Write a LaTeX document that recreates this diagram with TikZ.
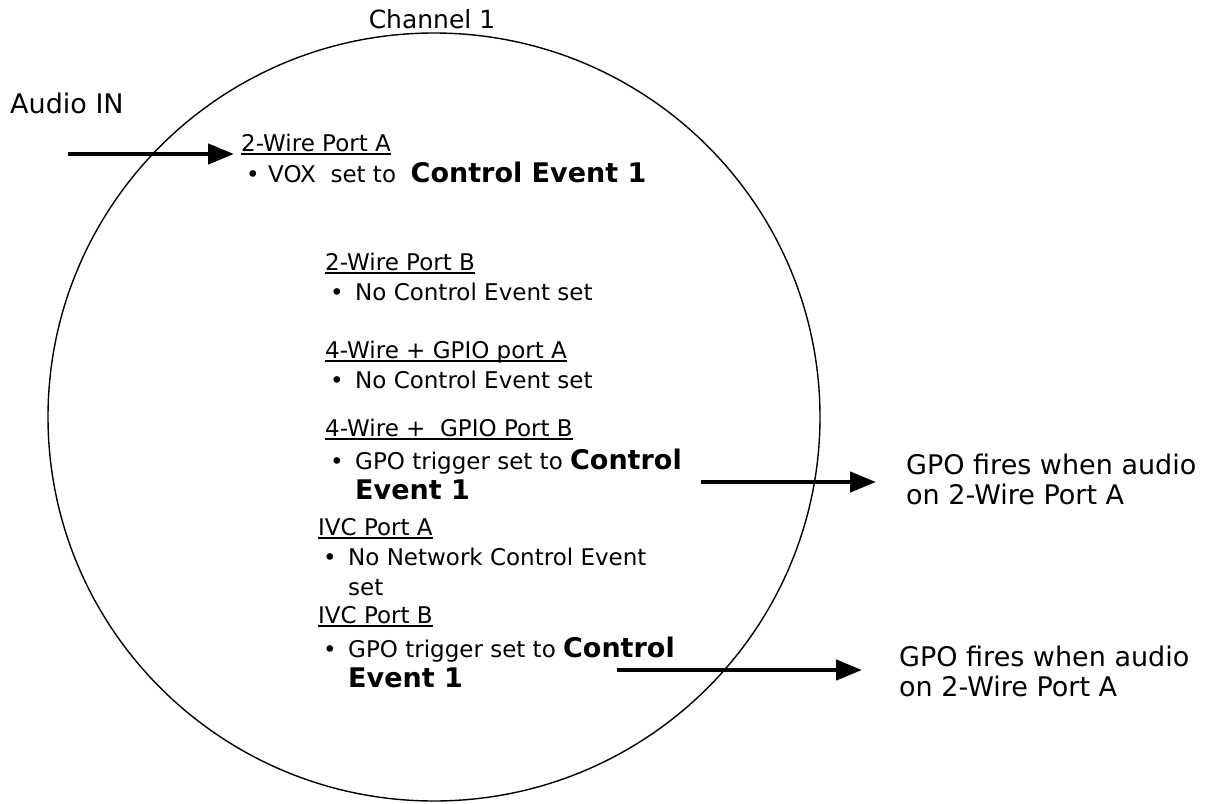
\documentclass[tikz,border=0pt]{standalone}
\usepackage{fontspec}
\setmainfont{DejaVu Sans}
\usetikzlibrary{arrows.meta}
\newcommand\bodyf{\fontsize{23}{30}\selectfont}
\newcommand\boldf{\fontsize{27}{30}\selectfont\bfseries}
\newcommand\labf{\fontsize{27}{30}\selectfont}
\begin{document}
\begin{tikzpicture}[x=1pt,y=-1pt,
  txt/.style={anchor=base west,inner sep=0pt,font=\bodyf},
  lab/.style={anchor=base west,inner sep=0pt,font=\labf},
  bul/.style={anchor=base west,inner sep=0pt,font=\bodyf},
  ulin/.style={line width=1.1pt},
  bigarrow/.style={line width=4.5pt,-{Triangle[length=26pt,width=20pt]}},
  ring/.style={line width=1.4pt}]
\useasboundingbox (0,0) rectangle (1212,803);
\draw[ring] (434,417) ellipse [x radius=386pt,y radius=384pt];
\node[anchor=base,inner sep=0pt,font=\fontsize{25}{30}\selectfont] (ch) at (432,28) {Channel 1};
\node[lab] (ain) at (10,113) {Audio IN};
% 2-Wire Port A
\node[txt] (h1) at (241,151) {2-Wire Port A};
\node[bul] (b1) at (246,182) {\textbullet};
\node[txt] (t1) at (268,182) {VOX\ \ set to\ \ {\boldf Control Event 1}};
% 2-Wire Port B
\node[txt] (h2) at (325,270) {2-Wire Port B};
\node[bul] (b2) at (330,300) {\textbullet};
\node[txt] (t2) at (355,300) {No Control Event set};
% 4-Wire A
\node[txt] (h3) at (325,358) {4-Wire + GPIO port A};
\node[bul] (b3) at (330,388) {\textbullet};
\node[txt] (t3) at (355,388) {No Control Event set};
% 4-Wire B
\node[txt] (h4) at (325,436) {4-Wire +\ \ GPIO Port B};
\node[bul] (b4) at (330,469) {\textbullet};
\node[txt] (t4) at (355,469) {GPO trigger set to {\boldf Control}};
\node[txt,font=\boldf] (t4b) at (355,499) {Event 1};
% IVC A
\node[txt] (h5) at (318,535) {IVC Port A};
\node[bul] (b5) at (323,565) {\textbullet};
\node[txt] (t5) at (348,565) {No Network Control Event};
\node[txt] (t5b) at (348,595) {set};
% IVC B
\node[txt] (h6) at (318,623) {IVC Port B};
\node[bul] (b6) at (323,657) {\textbullet};
\node[txt] (t6) at (348,657) {GPO trigger set to {\boldf Control}};
\node[txt,font=\boldf] (t6b) at (348,687) {Event 1};
% right labels
\node[lab] (r1) at (906,474) {GPO fires when audio};
\node[lab] (r1b) at (906,504) {on 2-Wire Port A};
\node[lab] (r2) at (899,666) {GPO fires when audio};
\node[lab] (r2b) at (899,696) {on 2-Wire Port A};
% underlines
\foreach \n in {h1,h2,h3,h4,h5,h6}
  \draw[ulin] ([yshift=-3pt]\n.base west) -- ([yshift=-3pt]\n.base east);
% arrows
\coordinate (a1s) at (68,154);
\coordinate (a2s) at (701,482);
\coordinate (a3s) at (617,670);
\draw[bigarrow,shorten >=7pt] (a1s) -- (a1s -| h1.west);
\draw[bigarrow,shorten >=30pt] (a2s) -- (a2s -| r1.west);
\draw[bigarrow,shorten >=37pt] (a3s) -- (a3s -| r2.west);
\end{tikzpicture}
\end{document}
